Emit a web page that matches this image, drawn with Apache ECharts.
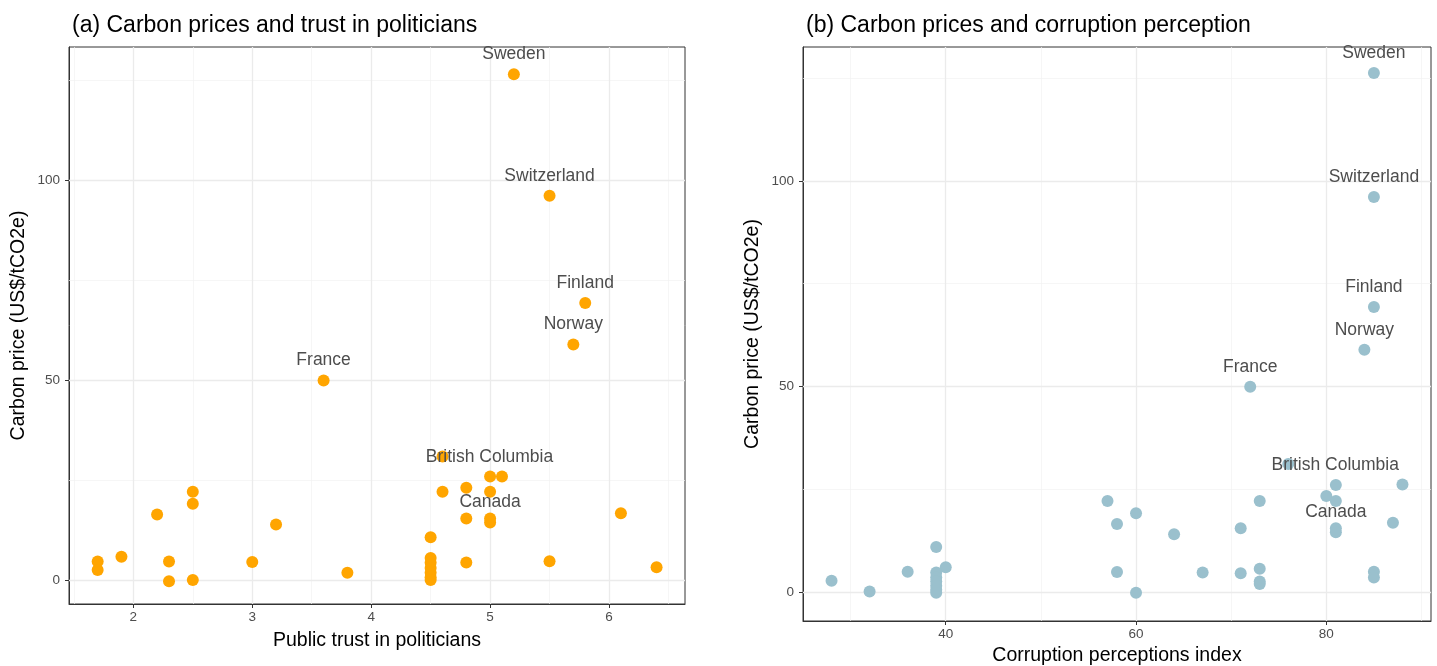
<!DOCTYPE html>
<html><head><meta charset="utf-8">
<script src="https://cdn.jsdelivr.net/npm/echarts@6/dist/echarts.min.js"></script>
<style>html,body{margin:0;padding:0;background:#fff}#c{width:1437px;height:666px}</style>
</head><body><div id="c"></div>
<script>
// ---------- Data: panel (a) ----------
const leftNames = ['Sweden','Switzerland','Finland','Norway','France','British Columbia','Canada',
  '','','','','','','','','','','','','','','','','','','','','','','','','','','','','',''];
const leftTrust = [5.2,5.5,5.8,5.7,3.6,4.6,5.0,
  5.0,5.1,4.8,4.6,5.0,2.5,2.5,2.2,6.1,4.8,5.0,3.2,4.5,1.9,1.7,2.3,3.0,4.8,5.5,6.4,1.7,3.8,2.3,2.5,
  4.5,4.5,4.5,4.5,4.5,4.5];
const leftPrice = [126.6,96.2,69.4,59.0,50.0,31.0,15.5,
  26.0,26.0,23.2,22.2,22.2,22.2,19.2,16.5,16.8,15.5,14.5,14.0,10.8,5.9,4.7,4.7,4.6,4.5,4.8,3.3,2.6,1.9,-0.2,0.1,
  5.6,4.4,3.1,1.9,0.8,0.1];
// ---------- Data: panel (b) ----------
const rightNames = ['Sweden','Switzerland','Finland','Norway','France','British Columbia','Canada',
  '','','','','','','','','','','','','','','','','','','','','','','','','','','','','','','',''];
const rightCPI = [85,85,85,84,72,76,81,
  88,81,80,81,73,57,60,58,87,71,81,64,39,40,36,58,67,71,73,85,85,28,73,73,32,60,
  39,39,39,39,39,39];
const rightPrice = [126.3,96.1,69.3,58.9,49.9,31.1,15.5,
  26.1,26.0,23.3,22.1,22.1,22.1,19.1,16.5,16.8,15.5,14.5,14.0,10.9,6.0,4.9,4.8,4.7,4.5,5.6,4.9,3.5,2.7,2.5,1.9,0.1,-0.2,
  4.7,3.5,2.5,1.5,0.5,-0.2];
// ---------- Tick labels / gridlines ----------
const leftXTicks = [2,3,4,5,6];
const leftXMinor = [1.5,2.5,3.5,4.5,5.5,6.5];
const yTicks = [0,50,100];
const yMinor = [25,75,125];
const rightXTicks = [40,60,80];
const rightXMinor = [30,50,70,90];

const FONT = "'Liberation Sans', Arial, Helvetica, sans-serif";
const TICK_COLOR = '#4d4d4d';
const SYM = 12;
// label centre relative to point centre (px), for labels not simply above the point
const labelShift = { 'British Columbia': [47, 1], 'Canada': [0, -16] };

function pointData(xs, ys, names) {
  return xs.map((x, i) => {
    const item = { value: [x, ys[i]], name: names[i] };
    const n = names[i];
    if (n) {
      const s = labelShift[n];
      item.label = s
        ? { show: true, formatter: n, position: [SYM / 2 + s[0], SYM / 2 + s[1]], align: 'center', verticalAlign: 'middle' }
        : { show: true, formatter: n, position: 'top', distance: 5 };
    }
    return item;
  });
}
function gridLines(xMaj, xMin, yMaj, yMin) {
  const d = [];
  xMin.forEach(v => d.push({ xAxis: v, lineStyle: { color: '#f2f2f2', width: 0.7, type: 'solid' } }));
  yMin.forEach(v => d.push({ yAxis: v, lineStyle: { color: '#f2f2f2', width: 0.7, type: 'solid' } }));
  xMaj.forEach(v => d.push({ xAxis: v, lineStyle: { color: '#ebebeb', width: 1.3, type: 'solid' } }));
  yMaj.forEach(v => d.push({ yAxis: v, lineStyle: { color: '#ebebeb', width: 1.3, type: 'solid' } }));
  return d;
}
function xAxisCfg(gi, min, max, ticks, name, gap) {
  return { gridIndex: gi, type: 'value', min: min, max: max,
    name: name, nameLocation: 'middle', nameGap: gap,
    nameTextStyle: { fontFamily: FONT, fontSize: 19.5, color: '#000' },
    splitLine: { show: false }, minorSplitLine: { show: false },
    axisLine: { show: true, onZero: false, lineStyle: { color: '#333', width: 1 } },
    axisTick: { show: true, length: 4, lineStyle: { color: '#333' }, customValues: ticks },
    axisLabel: { customValues: ticks, color: TICK_COLOR, fontSize: 13.5, fontFamily: FONT, margin: 6 } };
}
function yAxisCfg(gi, min, max, ticks, name) {
  return { gridIndex: gi, type: 'value', min: min, max: max,
    name: name, nameLocation: 'middle', nameGap: 40, nameRotate: 90,
    nameTextStyle: { fontFamily: FONT, fontSize: 19.5, color: '#000' },
    splitLine: { show: false }, minorSplitLine: { show: false },
    axisLine: { show: true, onZero: false, lineStyle: { color: '#333', width: 1 } },
    axisTick: { show: true, length: 4, lineStyle: { color: '#333' }, customValues: ticks },
    axisLabel: { customValues: ticks, color: TICK_COLOR, fontSize: 13.5, fontFamily: FONT, margin: 9 } };
}
const pointLabelStyle = { fontFamily: FONT, fontSize: 17.5, color: '#4d4d4d' };

const chart = echarts.init(document.getElementById('c'), null, { renderer: 'canvas' });
chart.setOption({
  animation: false,
  backgroundColor: '#fff',
  title: [
    { text: '(a) Carbon prices and trust in politicians', left: 67, top: 9,
      textStyle: { fontFamily: FONT, fontSize: 23, fontWeight: 'normal', color: '#000' } },
    { text: '(b) Carbon prices and corruption perception', left: 801, top: 9,
      textStyle: { fontFamily: FONT, fontSize: 23, fontWeight: 'normal', color: '#000' } }
  ],
  grid: [
    { left: 69, top: 47, width: 616, height: 557, show: true, borderColor: '#333', borderWidth: 1,
      backgroundColor: '#fff', containLabel: false, outerBoundsMode: 'none' },
    { left: 803, top: 47, width: 628, height: 574, show: true, borderColor: '#333', borderWidth: 1,
      backgroundColor: '#fff', containLabel: false, outerBoundsMode: 'none' }
  ],
  xAxis: [
    xAxisCfg(0, 1.459, 6.639, leftXTicks, 'Public trust in politicians', 27),
    xAxisCfg(1, 25, 91, rightXTicks, 'Corruption perceptions index', 22)
  ],
  yAxis: [
    yAxisCfg(0, -5.9, 133.4, yTicks, 'Carbon price (US$/tCO2e)'),
    yAxisCfg(1, -7.1, 132.6, yTicks, 'Carbon price (US$/tCO2e)')
  ],
  series: [
    { type: 'scatter', xAxisIndex: 0, yAxisIndex: 0, data: [], z: 1, silent: true,
      markLine: { silent: true, symbol: 'none', z: 1, label: { show: false }, animation: false,
        emphasis: { disabled: true }, data: gridLines(leftXTicks, leftXMinor, yTicks, yMinor) } },
    { type: 'scatter', xAxisIndex: 1, yAxisIndex: 1, data: [], z: 1, silent: true,
      markLine: { silent: true, symbol: 'none', z: 1, label: { show: false }, animation: false,
        emphasis: { disabled: true }, data: gridLines(rightXTicks, rightXMinor, yTicks, yMinor) } },
    { type: 'scatter', xAxisIndex: 0, yAxisIndex: 0, z: 3, symbolSize: SYM,
      itemStyle: { color: '#FFA500', opacity: 1 },
      label: Object.assign({ show: false }, pointLabelStyle),
      labelLayout: { hideOverlap: false },
      data: pointData(leftTrust, leftPrice, leftNames) },
    { type: 'scatter', xAxisIndex: 1, yAxisIndex: 1, z: 3, symbolSize: SYM,
      itemStyle: { color: '#9AC0CD', opacity: 1 },
      label: Object.assign({ show: false }, pointLabelStyle),
      labelLayout: { hideOverlap: false },
      data: pointData(rightCPI, rightPrice, rightNames) }
  ]
});
</script></body></html>
